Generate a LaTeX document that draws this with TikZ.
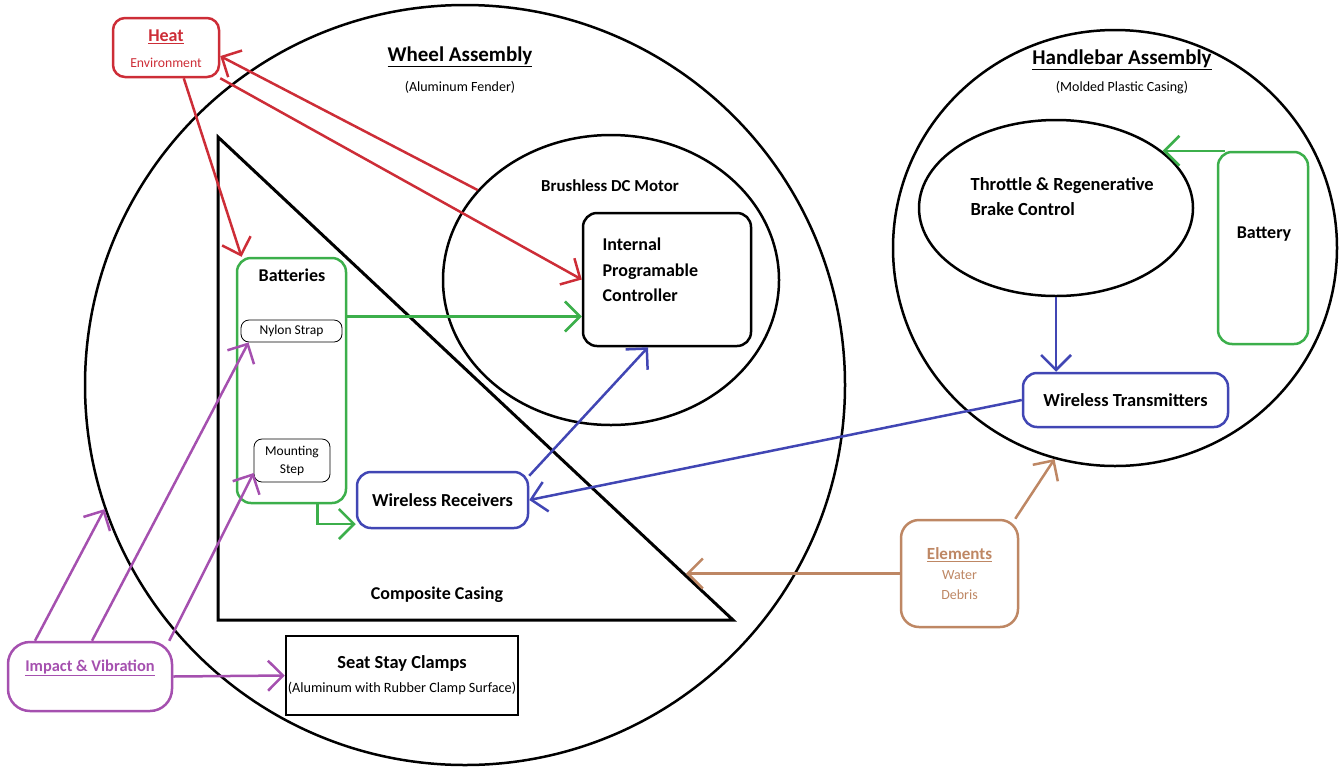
\documentclass[tikz,border=0pt]{standalone}
\usepackage{fontspec}
\setmainfont{Carlito}
\usetikzlibrary{arrows.meta,shapes.geometric}
\definecolor{heatred}{RGB}{205,45,55}
\definecolor{battgreen}{RGB}{60,175,75}
\definecolor{sigblue}{RGB}{65,70,180}
\definecolor{vibpurple}{RGB}{165,80,175}
\definecolor{elembrown}{RGB}{190,135,100}
\newcommand{\txtsize}[2]{\fontsize{#1}{#2}\selectfont}
\tikzset{
  barb/.style={-{Straight Barb[length=15pt,width=30pt]}},
  title/.style={font=\bfseries\txtsize{18}{25}},
  small/.style={font=\txtsize{14}{20}},
}
\begin{document}
\begin{tikzpicture}[x=1pt,y=-1pt,line width=2.5pt,
    ring/.style={draw,circle,inner sep=0pt},
    oval/.style={draw,ellipse,inner sep=0pt},
    box/.style={draw,rounded corners=14pt,inner sep=0pt,align=center},
    thinbox/.style={draw,line width=0.8pt,rounded corners=8pt,inner sep=0pt,align=center,font=\txtsize{13.5}{18}}]
    \useasboundingbox (0,0) rectangle (1343,769);
    %% Wheel assembly
    \node[ring,minimum size=760pt] (wheel) at (465,385) {};
    \node[font=\bfseries\txtsize{21}{24}] (wheeltitle) at (460,57) {\underline{Wheel Assembly}};
    \node[small] (fender) at (460,87) {(Aluminum Fender)};
    %% Composite casing
    \coordinate (tA) at (218,137);
    \coordinate (tB) at (218,620);
    \coordinate (tC) at (733,620);
    \draw[line width=3pt] (tA) -- (tB) -- (tC) -- cycle;
    \node[title] (casing) at (437,595) {Composite Casing};
    \coordinate (hit) at (686,574);
    %% Motor and controller
    \node[oval,minimum width=336pt,minimum height=290pt] (motor) at (611,280) {};
    \node[font=\bfseries\txtsize{16.8}{18}] (motortitle) at (610,186) {Brushless DC Motor};
    \node[box,minimum width=168pt,minimum height=133pt] (ctrl) at (667,279.5) {};
    \node[title,font=\bfseries\txtsize{18}{25.5},align=left,anchor=west] (ctrltext) at (598,270) {Internal\\Programable\\Controller};
    %% Batteries
    \node[box,draw=battgreen,minimum width=109pt,minimum height=245pt] (batt) at (291.5,380.5) {};
    \node[title] (batttitle) at (292,275) {Batteries};
    \node[thinbox,minimum width=101pt,minimum height=22pt] (nylon) at (291.5,331) {Nylon Strap};
    \node[thinbox,minimum width=76pt,minimum height=43pt] (mount) at (292,460.5) {Mounting\\Step};
    \node[box,draw=sigblue,minimum width=171pt,minimum height=56pt,font=\bfseries\txtsize{18.3}{20}] (recv) at (442.5,500) {Wireless Receivers};
    %% Seat stay clamps
    \node[draw,minimum width=232pt,minimum height=79pt,inner sep=0pt,align=center,font=\txtsize{14.2}{24}] (seat) at (402,675.5) {{\bfseries\txtsize{18.4}{24}Seat Stay Clamps}\\(Aluminum with Rubber Clamp Surface)};
    %% Heat
    \node[box,draw=heatred,rounded corners=12pt,minimum width=106pt,minimum height=59pt] (heat) at (166,47.5) {};
    \node[text=heatred,align=center,font=\txtsize{13.7}{26}] (heattext) at (166,49) {{\bfseries\txtsize{18}{26}\underline{Heat}}\\Environment};
    %% Impact & Vibration
    \node[box,draw=vibpurple,rounded corners=22pt,minimum width=164pt,minimum height=69pt] (impact) at (90,676.5) {};
    \node[text=vibpurple,font=\bfseries\txtsize{16.4}{18}] (impacttext) at (90,668) {\underline{Impact \& Vibration}};
    %% Elements
    \node[box,draw=elembrown,rounded corners=18pt,minimum width=117pt,minimum height=107pt,text=elembrown,font=\txtsize{14}{20}] (elem) at (959.5,573.5) {{\bfseries\txtsize{17}{20}\underline{Elements}}\\Water\\Debris};
    %% Handlebar assembly
    \node[oval,minimum width=444pt,minimum height=436pt] (handle) at (1115,248) {};
    \node[font=\bfseries\txtsize{21}{23}] (handletitle) at (1122,60) {\underline{Handlebar Assembly}};
    \node[small] (casingtext) at (1122,88) {(Molded Plastic Casing)};
    \node[oval,minimum width=274pt,minimum height=176pt] (throttle) at (1056,208) {};
    \node[title,font=\bfseries\txtsize{18.5}{25},align=left,anchor=west] (throttletext) at (966,197) {Throttle \& Regenerative\\Brake Control};
    \node[box,draw=battgreen,minimum width=90pt,minimum height=192pt] (bat) at (1263,248) {};
    \node[title] (battext) at (1264,234) {Battery};
    \node[box,draw=sigblue,minimum width=205pt,minimum height=54pt,font=\bfseries\txtsize{18.4}{20}] (trans) at (1125.5,400) {Wireless Transmitters};
    %% Heat arrows
    \draw[heatred,barb] (heat.-60) -- (batt.112);
    \draw[heatred,barb] (motor.146) -- (heat.-9);
    \draw[heatred,barb] (heat.south east) -- (ctrl.west);
    %% Power arrows
    \draw[battgreen,barb] ([yshift=64pt]batt.east) -- ([yshift=64pt]batt.east -| ctrl.west);
    \draw[battgreen,barb] ([xshift=26pt]batt.south) |- ([yshift=-24pt]recv.west);
    \draw[battgreen,barb] ([xshift=8pt]bat.north west) -- (throttle.28 |- bat.north west);
    %% Signal arrows
    \draw[sigblue,barb] ([yshift=-5pt]recv.north east) -- ([xshift=-19pt]ctrl.south);
    \draw[sigblue,barb] (trans.west) -- (recv.east);
    \draw[sigblue,barb] (throttle.south) -- (throttle.south |- trans.north);
    %% Impact arrows
    \draw[vibpurple,barb] ([xshift=-55pt]impact.north) -- (wheel.199);
    \draw[vibpurple,barb] ([xshift=2pt]impact.north) -- ([xshift=-43pt]nylon.south);
    \draw[vibpurple,barb] ([xshift=-4pt]impact.north east) -- (mount.-162);
    \draw[vibpurple,barb] (impact.east) -- (seat.west);
    %% Elements arrows
    \draw[elembrown,barb] (elem.west) -- (elem.west -| hit);
    \draw[elembrown,barb] ([xshift=-4pt]elem.north east) -- (handle.254);
\end{tikzpicture}
\end{document}
